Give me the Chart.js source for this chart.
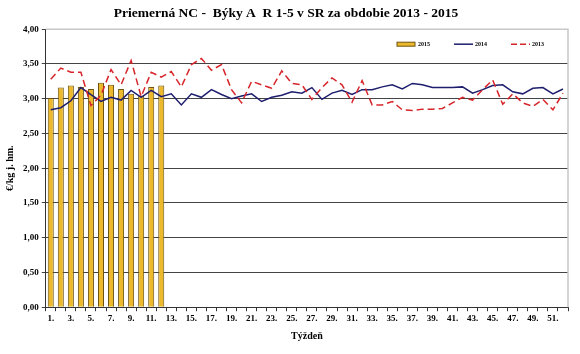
<!DOCTYPE html>
<html>
<head>
<meta charset="utf-8">
<script src="https://cdn.jsdelivr.net/npm/chart.js@4.4.0/dist/chart.umd.min.js"></script>
<style>
  html, body { margin: 0; padding: 0; background: #fff; }
  #wrap { width: 580px; height: 354px; }
</style>
</head>
<body>
<div id="wrap"><canvas id="chart"></canvas></div>
<script>
const weeks = Array.from({ length: 52 }, (_, i) => (i + 1) + '.');

const price2015 = [3.01, 3.16, 3.19, 3.17, 3.14, 3.23, 3.20, 3.14, 3.07, 3.04, 3.17, 3.19];

const price2014 = [2.84, 2.87, 2.97, 3.16, 3.06, 2.96, 3.02, 2.98, 3.12, 3.02,
                   3.12, 3.03, 3.07, 2.91, 3.07, 3.02, 3.13, 3.06, 3.00, 3.04,
                   3.07, 2.96, 3.02, 3.05, 3.10, 3.08, 3.16, 2.99, 3.08, 3.12,
                   3.06, 3.13, 3.13, 3.17, 3.20, 3.14, 3.22, 3.20, 3.16, 3.16,
                   3.16, 3.17, 3.08, 3.13, 3.19, 3.20, 3.10, 3.07, 3.15, 3.16,
                   3.07, 3.14];

const price2013 = [3.28, 3.44, 3.38, 3.38, 2.90, 3.05, 3.42, 3.20, 3.55, 3.03,
                   3.38, 3.31, 3.39, 3.17, 3.49, 3.58, 3.41, 3.49, 3.13, 2.94,
                   3.25, 3.20, 3.15, 3.40, 3.22, 3.20, 2.99, 3.16, 3.30, 3.20,
                   2.95, 3.26, 2.91, 2.91, 2.96, 2.84, 2.83, 2.85, 2.85, 2.86,
                   2.94, 3.02, 2.98, 3.13, 3.27, 2.92, 3.07, 2.94, 2.89, 2.99,
                   2.84, 3.08];

const serif = 'Liberation Serif';

// light frame on top and right of the plot area
const plotFrame = {
    id: 'plotFrame',
    beforeDatasetsDraw(chart) {
        const { ctx, chartArea: a } = chart;
        ctx.save();
        ctx.strokeStyle = '#c8c8c8';
        ctx.lineWidth = 1.5;
        ctx.beginPath();
        ctx.moveTo(a.left, a.top);
        ctx.lineTo(a.right, a.top);
        ctx.lineTo(a.right, a.bottom);
        ctx.stroke();
        ctx.restore();
    }
};

// small legend sitting inside the plot, top right (like the Excel one)
const innerLegend = {
    id: 'innerLegend',
    afterDatasetsDraw(chart) {
        const { ctx, chartArea: a } = chart;
        const y = a.top + 15;
        let x = a.right - 171;
        ctx.save();
        ctx.font = 'bold 6px ' + serif;
        ctx.textBaseline = 'middle';
        chart.data.datasets.forEach(ds => {
            if (ds.type === 'bar') {
                ctx.fillStyle = ds.backgroundColor;
                ctx.fillRect(x, y - 2, 18, 4);
                ctx.strokeStyle = ds.borderColor;
                ctx.lineWidth = 1;
                ctx.strokeRect(x, y - 2, 18, 4);
            } else {
                ctx.strokeStyle = ds.borderColor;
                ctx.lineWidth = ds.borderWidth;
                ctx.setLineDash(ds.borderDash ? [6, 3] : []);
                ctx.beginPath();
                ctx.moveTo(x, y);
                ctx.lineTo(x + 19, y);
                ctx.stroke();
                ctx.setLineDash([]);
            }
            ctx.fillStyle = '#000';
            ctx.fillText(ds.label, x + 21, y + 0.5);
            x += 57;
        });
        ctx.restore();
    }
};

function loadChart() {
    const ctx = document.getElementById('chart').getContext('2d');
    new Chart(ctx, {
        data: {
            labels: weeks,
            datasets: [
                {
                    type: 'bar',
                    label: '2015',
                    data: price2015,
                    backgroundColor: '#EDB92C',
                    borderColor: '#6E5410',
                    borderWidth: 1,
                    barPercentage: 0.6,
                    categoryPercentage: 1,
                    order: 3
                },
                {
                    type: 'line',
                    label: '2014',
                    data: price2014,
                    borderColor: '#1E1E6E',
                    borderWidth: 1.5,
                    pointRadius: 0,
                    tension: 0,
                    order: 2
                },
                {
                    type: 'line',
                    label: '2013',
                    data: price2013,
                    borderColor: '#D7262B',
                    borderWidth: 1.5,
                    borderDash: [7, 4],
                    pointRadius: 0,
                    tension: 0,
                    order: 1
                }
            ]
        },
        options: {
            responsive: true,
            maintainAspectRatio: false,
            animation: false,
            layout: { padding: { left: 4, right: 12, top: 0, bottom: 12 } },
            plugins: {
                title: {
                    display: true,
                    text: 'Priemerná NC -  Býky A  R 1-5 v SR za obdobie 2013 - 2015',
                    color: '#000',
                    font: { family: serif, size: 13.5, weight: 'bold' },
                    padding: { top: 5, bottom: 8 }
                },
                legend: { display: false },
                tooltip: { enabled: false }
            },
            scales: {
                x: {
                    offset: true,
                    border: { color: '#333', width: 1 },
                    grid: { offset: true, drawOnChartArea: false, drawTicks: true, tickLength: 4, color: '#333' },
                    ticks: {
                        autoSkip: false,
                        maxRotation: 0,
                        color: '#000',
                        padding: 2,
                        font: { family: serif, size: 9, weight: 'bold' },
                        callback: (v, i) => (i % 2 === 0 ? weeks[i] : '')
                    },
                    title: {
                        display: true,
                        text: 'Týždeň',
                        color: '#000',
                        font: { family: serif, size: 10, weight: 'bold' },
                        padding: { top: 4, bottom: 0 }
                    }
                },
                y: {
                    min: 0,
                    max: 4,
                    border: { color: '#333', width: 1 },
                    grid: { color: '#444', lineWidth: 1, tickLength: 4 },
                    ticks: {
                        stepSize: 0.5,
                        color: '#000',
                        padding: 3,
                        font: { family: serif, size: 9, weight: 'bold' },
                        callback: v => v.toFixed(2).replace('.', ',')
                    },
                    title: {
                        display: true,
                        text: '€/kg j. hm.',
                        color: '#000',
                        font: { family: serif, size: 10, weight: 'bold' },
                        padding: { top: 0, bottom: 4 }
                    }
                }
            }
        },
        plugins: [plotFrame, innerLegend]
    });
}

window.onload = loadChart;
</script>
</body>
</html>
